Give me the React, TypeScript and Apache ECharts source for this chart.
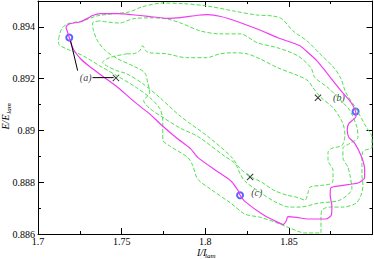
import React, { useEffect, useRef } from "react";
import * as echarts from "echarts";

// Magenta closed trajectory [I/I_lam, E/E_lam]
const magenta: number[][] = [
  [1.7187, 0.89359], [1.7174, 0.89385], [1.7168, 0.89396], [1.7174, 0.89406], [1.7196, 0.89413],
  [1.7256, 0.8942], [1.7296, 0.89433], [1.7326, 0.89444], [1.7374, 0.89451], [1.7476, 0.89451],
  [1.7596, 0.89445], [1.7668, 0.8944], [1.7775, 0.89433], [1.7853, 0.89436], [1.7955, 0.89445],
  [1.8015, 0.89447], [1.8093, 0.8944], [1.8195, 0.8942], [1.8326, 0.89388], [1.8434, 0.89358],
  [1.8566, 0.89327], [1.8614, 0.89301], [1.8668, 0.89269], [1.8716, 0.89231], [1.8811, 0.89154],
  [1.8871, 0.89109], [1.8899, 0.89073], [1.8901, 0.89054], [1.8859, 0.89027], [1.8849, 0.89003],
  [1.8859, 0.88973], [1.8893, 0.88951], [1.8933, 0.889], [1.8953, 0.88849], [1.8953, 0.88817],
  [1.8913, 0.88797], [1.8813, 0.88787], [1.8752, 0.88779], [1.8747, 0.8875], [1.8757, 0.88708],
  [1.8754, 0.88673], [1.8722, 0.88658], [1.8614, 0.88658], [1.8548, 0.88664], [1.8494, 0.88667],
  [1.8485, 0.88652], [1.8468, 0.88637], [1.8428, 0.88647], [1.8349, 0.88673], [1.8235, 0.88727],
  [1.8208, 0.8875], [1.8199, 0.88765], [1.8155, 0.88804], [1.8055, 0.88849], [1.7955, 0.88896],
  [1.7913, 0.88929], [1.7829, 0.88971], [1.7728, 0.89027], [1.7668, 0.89064], [1.7616, 0.8909],
  [1.7556, 0.89122], [1.7476, 0.89167], [1.7396, 0.89205], [1.7316, 0.89243], [1.7256, 0.89276],
  [1.7217, 0.89308], [1.7196, 0.89338], [1.7187, 0.89359],
];

// Green dashed trajectories
const green1: number[][] = [
  [1.7123, 0.89354], [1.7141, 0.89392], [1.7177, 0.89412], [1.7266, 0.89423], [1.735, 0.89442],
  [1.744, 0.8945], [1.7548, 0.89458], [1.762, 0.89477], [1.7746, 0.89492], [1.7865, 0.8949],
  [1.8009, 0.89481], [1.8165, 0.89462], [1.8308, 0.89446], [1.8404, 0.89442], [1.8458, 0.89431],
  [1.8524, 0.89385], [1.8608, 0.89346], [1.8686, 0.89296], [1.8775, 0.89238], [1.8811, 0.892],
  [1.8841, 0.89146], [1.8901, 0.89085], [1.8961, 0.89015], [1.8997, 0.88973], [1.8997, 0.88935],
  [1.8943, 0.88919], [1.8937, 0.88885], [1.8937, 0.88827], [1.8943, 0.88788], [1.8931, 0.8875],
  [1.8901, 0.88719], [1.8823, 0.88704], [1.8746, 0.88704], [1.8698, 0.88692], [1.8692, 0.88654],
  [1.8692, 0.88604], [1.8596, 0.88604], [1.8506, 0.88623], [1.8416, 0.88646], [1.8326, 0.88665],
  [1.8237, 0.88677], [1.8153, 0.88719], [1.8033, 0.88773], [1.7955, 0.88812], [1.7925, 0.88865],
  [1.7895, 0.88896], [1.7793, 0.88938], [1.7746, 0.88965], [1.7746, 0.89038], [1.7728, 0.89085],
  [1.7668, 0.89127], [1.759, 0.89165], [1.747, 0.89212], [1.7368, 0.8925], [1.729, 0.89281],
  [1.7231, 0.893], [1.7171, 0.89315], [1.7123, 0.89335], [1.7123, 0.89354],
];

const green2: number[][] = [
  [1.7368, 0.89423], [1.7326, 0.89415], [1.7332, 0.89385], [1.7356, 0.89346], [1.7404, 0.89308],
  [1.7476, 0.89277], [1.7578, 0.89246], [1.7638, 0.89223], [1.7656, 0.89185], [1.7668, 0.89146],
  [1.7632, 0.89115], [1.7668, 0.89085], [1.7757, 0.89046], [1.7853, 0.89008], [1.7955, 0.88977],
  [1.8117, 0.889], [1.8177, 0.88873], [1.8207, 0.88835], [1.8237, 0.88804], [1.8326, 0.88762],
  [1.841, 0.88727], [1.8506, 0.88704], [1.8566, 0.88704], [1.8674, 0.88719], [1.8805, 0.88731],
  [1.8877, 0.88777], [1.8865, 0.88827], [1.8853, 0.88858], [1.8823, 0.88896], [1.8823, 0.88931],
  [1.8865, 0.8895], [1.8913, 0.88973], [1.8907, 0.89012], [1.8865, 0.89077], [1.8811, 0.89115],
  [1.8734, 0.89165], [1.8656, 0.89204], [1.8632, 0.89242], [1.8554, 0.89288], [1.8434, 0.89319],
  [1.8314, 0.89338], [1.8207, 0.89373], [1.8087, 0.89373], [1.7967, 0.89385], [1.7865, 0.89412],
  [1.7769, 0.89431], [1.7668, 0.89435], [1.7566, 0.89431], [1.7488, 0.89415], [1.7368, 0.89423],
];

const green3: number[][] = [
  [1.753, 0.89296], [1.7566, 0.89296], [1.7608, 0.89308], [1.7626, 0.89327], [1.7644, 0.89308],
  [1.7668, 0.893], [1.7769, 0.89296], [1.7889, 0.89281], [1.8009, 0.89281], [1.8087, 0.89296],
  [1.8165, 0.893], [1.8249, 0.89296], [1.8326, 0.89277], [1.8434, 0.89242], [1.8554, 0.89212],
  [1.8614, 0.89192], [1.8644, 0.89165], [1.8692, 0.89127], [1.8764, 0.89088], [1.8823, 0.89027],
  [1.8835, 0.88981], [1.8817, 0.88942], [1.8757, 0.88931], [1.8734, 0.88915], [1.8734, 0.88885],
  [1.8764, 0.88846], [1.8764, 0.88819], [1.8757, 0.88796], [1.8698, 0.88788], [1.8626, 0.88781],
  [1.8614, 0.88758], [1.8596, 0.88731], [1.8548, 0.88742], [1.8488, 0.8875], [1.841, 0.88769],
  [1.8338, 0.888], [1.8266, 0.88823], [1.8207, 0.88854], [1.8153, 0.889], [1.8015, 0.88977],
  [1.7853, 0.89054], [1.7728, 0.89127], [1.7626, 0.89181], [1.753, 0.89219], [1.747, 0.89231],
  [1.741, 0.8925], [1.7386, 0.89262], [1.7428, 0.89281], [1.753, 0.89296],
];

// Markers
const circlePoints: number[][] = [[1.7187, 0.89359], [1.8899, 0.89073], [1.8208, 0.8875]];
const crossPoints: number[][] = [[1.7466, 0.89203], [1.8674, 0.89126], [1.8268, 0.8882]];
const labelNames = ["(a)", "(b)", "(c)"];
const labelPoints: number[][] = [[1.7285, 0.89204], [1.8799, 0.89127], [1.8308, 0.88762]];
const leaderA1: number[][] = [[1.7195, 0.89346], [1.7237, 0.89231]];
const leaderA2: number[][] = [[1.7326, 0.89204], [1.7452, 0.89204]];

// Axis ticks
const xTickValues = [1.7, 1.75, 1.8, 1.85];
const xTickLabels = ["1.7", "1.75", "1.8", "1.85"];
const yTickValues = [0.886, 0.888, 0.89, 0.892, 0.894];
const yTickLabels = ["0.886", "0.888", "0.89", "0.892", "0.894"];

const SERIF = "'Liberation Serif', 'DejaVu Serif', serif";

function pick(values: number[], labels: string[], v: number, eps: number) {
  for (let i = 0; i < values.length; i++) {
    if (Math.abs(values[i] - v) < eps) return labels[i];
  }
  return "";
}

export default function App() {
  const ref = useRef<HTMLDivElement>(null);
  useEffect(() => {
    if (!ref.current) return;
    const chart = echarts.init(ref.current, null, { renderer: "svg" });
    const green = "#4fe04f";
    const tickCommon = {
      axisLine: { show: true, onZero: false, lineStyle: { color: "#000", width: 1 } },
      axisTick: { show: true, inside: true, length: 6, lineStyle: { color: "#000" } },
      minorTick: { show: true, splitNumber: 2, length: 3, lineStyle: { color: "#000" } },
      splitLine: { show: false },
      minorSplitLine: { show: false },
    };
    const option: any = {
      animation: false,
      backgroundColor: "#fff",
      grid: { left: 38, right: 1.5, top: 1, bottom: 25, containLabel: false },
      xAxis: [
        {
          type: "value", min: 1.7, max: 1.9, interval: 0.05, position: "bottom",
          ...tickCommon,
          axisLabel: {
            show: true, margin: 2, color: "#000", fontFamily: SERIF, fontSize: 10,
            lineHeight: 10, showMaxLabel: false,
            formatter: (v: number) => pick(xTickValues, xTickLabels, v, 1e-6),
          },
        },
        {
          type: "value", min: 1.7, max: 1.9, interval: 0.05, position: "top",
          ...tickCommon, axisLabel: { show: false },
        },
      ],
      yAxis: [
        {
          type: "value", min: 0.886, max: 0.895, interval: 0.002, position: "left",
          ...tickCommon,
          axisLabel: {
            show: true, margin: 3, color: "#000", fontFamily: SERIF, fontSize: 10,
            showMaxLabel: false,
            formatter: (v: number) => pick(yTickValues, yTickLabels, v, 1e-7),
          },
        },
        {
          type: "value", min: 0.886, max: 0.895, interval: 0.002, position: "right",
          ...tickCommon, axisLabel: { show: false },
        },
      ],
      series: [
        ...[green1, green2, green3].map((d) => ({
          type: "line", data: d, symbol: "none", smooth: 0.3,
          lineStyle: { color: green, width: 1, type: [4, 2] },
          silent: true,
        })),
        {
          type: "line", data: magenta, symbol: "none", smooth: 0.2,
          lineStyle: { color: "#f03cf0", width: 1.2 }, silent: true,
        },
        {
          type: "line", data: leaderA1, symbol: "none",
          lineStyle: { color: "#000", width: 1 }, silent: true,
        },
        {
          type: "line", data: leaderA2, symbol: "none",
          lineStyle: { color: "#000", width: 1 }, silent: true,
        },
        {
          type: "scatter", data: crossPoints,
          symbol: "path://M0,1L1,0L5,4L9,0L10,1L6,5L10,9L9,10L5,6L1,10L0,9L4,5Z",
          symbolSize: 7, itemStyle: { color: "#000" }, silent: true,
        },
        {
          type: "scatter", data: circlePoints, symbol: "emptyCircle", symbolSize: 6,
          itemStyle: { color: "#3040ff", borderWidth: 0.8 }, silent: true,
        },
        {
          type: "scatter",
          data: labelNames.map((n, i) => ({ name: n, value: labelPoints[i] })),
          symbol: "circle", symbolSize: 1,
          itemStyle: { color: "rgba(0,0,0,0)" },
          label: {
            show: true, position: "inside", formatter: (p: any) => p.name,
            fontFamily: SERIF, fontStyle: "italic", fontSize: 10, color: "#000",
          },
          silent: true,
        },
      ],
      graphic: [
        {
          type: "text", x: 197, y: 252.5,
          style: { text: "I/I", font: `italic 10px ${SERIF}`, fill: "#000", align: "left", verticalAlign: "middle" },
        },
        {
          type: "text", x: 205, y: 255.5,
          style: { text: "lam", font: `italic 7px ${SERIF}`, fill: "#000", align: "left", verticalAlign: "middle" },
        },
        {
          type: "text", x: 5, y: 122, rotation: Math.PI / 2,
          style: { text: "E/E", font: `italic 10px ${SERIF}`, fill: "#000", align: "center", verticalAlign: "middle" },
        },
        {
          type: "text", x: 9, y: 108.5, rotation: Math.PI / 2,
          style: { text: "lam", font: `italic 7px ${SERIF}`, fill: "#000", align: "center", verticalAlign: "middle" },
        },
      ],
    };
    chart.setOption(option);
    return () => chart.dispose();
  }, []);
  return (
    <div
      ref={ref}
      style={{ position: "fixed", left: 0, top: 0, width: 374, height: 259 }}
    />
  );
}
